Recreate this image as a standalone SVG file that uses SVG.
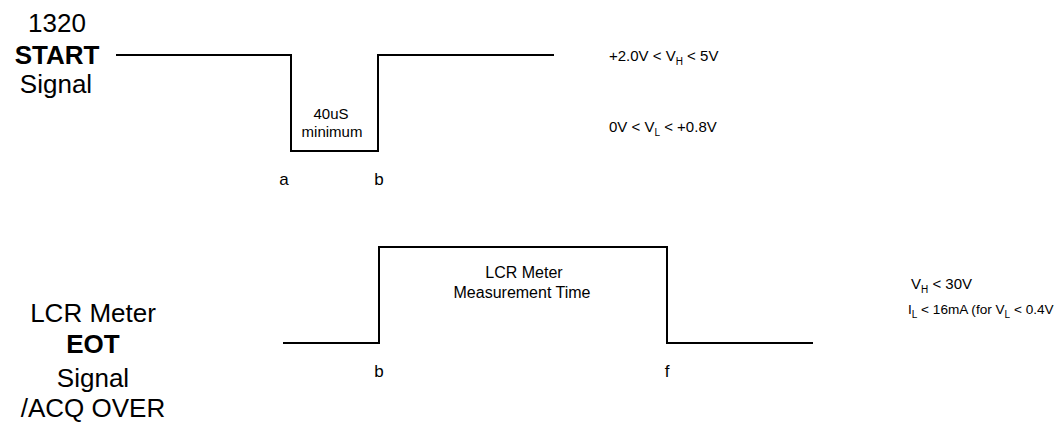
<svg xmlns="http://www.w3.org/2000/svg" width="1058" height="424" viewBox="0 0 1058 424">
<style>
text{font-family:"Liberation Sans",Arial,sans-serif;fill:#000}
.big{font-size:26px;text-anchor:middle}
.b{font-weight:bold}
.mid{font-size:15px;text-anchor:middle}
.mt{font-size:16px;text-anchor:middle}
.lab{font-size:17px;text-anchor:middle}
.sm{font-size:15px}
.sm2{font-size:13.6px}
.sub{font-size:10px}
.wave{fill:none;stroke:#000;stroke-width:2}
</style>
<rect width="1058" height="424" fill="#fff"/>
<g id="start-label">
<text class="big" x="57" y="32">1320</text>
<text class="big b" x="57" y="64">START</text>
<text class="big" x="56" y="93">Signal</text>
</g>
<g id="eot-label">
<text class="big" x="93" y="322">LCR Meter</text>
<text class="big b" x="93" y="353">EOT</text>
<text class="big" x="93" y="387">Signal</text>
<text class="big" x="93" y="417">/ACQ OVER</text>
</g>
<g id="connectors">
<polyline id="start-wave" class="wave" points="116,55 291,55 291,151 378,151 378,55 554,55"/>
<polyline id="eot-wave" class="wave" points="283,343 379,343 379,247 667,247 667,343 813,343"/>
</g>
<g id="start-notes">
<text class="mid" x="331" y="119">40uS</text>
<text class="mid" x="332" y="137">minimum</text>
<text class="lab" x="284" y="185">a</text>
<text class="lab" x="379" y="185">b</text>
</g>
<g id="start-levels">
<text class="sm" x="609" y="61">+2.0V &lt; V<tspan class="sub" dy="4">H</tspan><tspan dy="-4"> &lt; 5V</tspan></text>
<text class="sm" x="609" y="132">0V &lt; V<tspan class="sub" dy="4">L</tspan><tspan dy="-4"> &lt; +0.8V</tspan></text>
</g>
<g id="eot-notes">
<text class="mt" x="524" y="278">LCR Meter</text>
<text class="mt" x="522" y="298">Measurement Time</text>
<text class="lab" x="379" y="377">b</text>
<text class="lab" x="667" y="377">f</text>
</g>
<g id="eot-levels">
<text class="sm" x="911" y="289">V<tspan class="sub" dy="4">H</tspan><tspan dy="-4"> &lt; 30V</tspan></text>
<text class="sm2" x="908" y="314">I<tspan class="sub" dy="4">L</tspan><tspan dy="-4"> &lt; 16mA (for V</tspan><tspan class="sub" dy="4">L</tspan><tspan dy="-4"> &lt; 0.4V</tspan></text>
</g>
</svg>
